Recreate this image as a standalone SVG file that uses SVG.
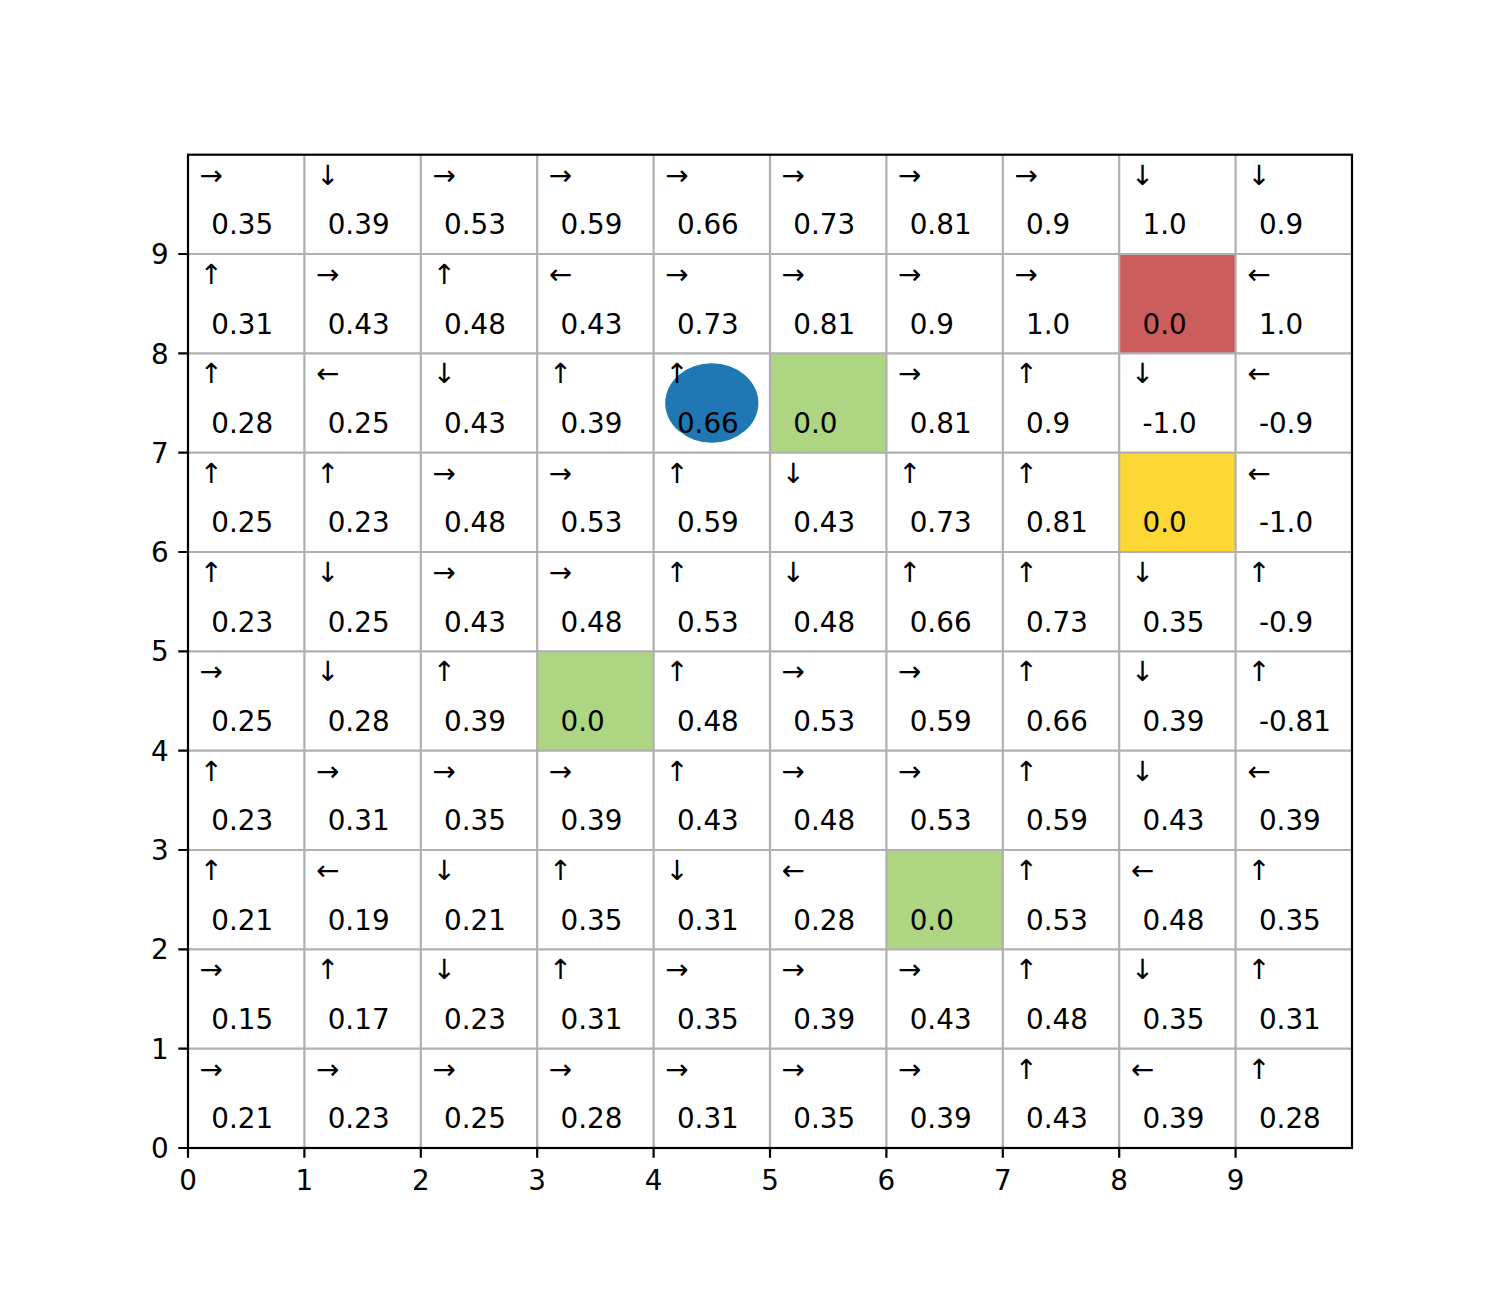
<svg xmlns="http://www.w3.org/2000/svg" width="1502" height="1290" viewBox="0 0 1502 1290">
<style>
text{font-family:"DejaVu Sans",sans-serif;font-size:27.8px;fill:#000}
.tl{text-anchor:end}
.tb{text-anchor:middle}
.g{stroke:#b0b0b0;stroke-width:2.2;fill:none}
.t{stroke:#000;stroke-width:2.2}
</style>
<rect width="1502" height="1290" fill="#fff"/>
<g id="fills">
<rect x="1119.2" y="254" width="116.4" height="99.4" fill="#cd5c5c"/>
<rect x="1119.2" y="452.7" width="116.4" height="99.3" fill="#fdd835"/>
<rect x="770" y="353.4" width="116.4" height="99.3" fill="#aed581"/>
<rect x="537.2" y="651.3" width="116.4" height="99.4" fill="#aed581"/>
<rect x="886.4" y="850" width="116.4" height="99.3" fill="#aed581"/>
</g>
<g id="grid" class="g">
<path d="M304.4 154.7V1148M420.8 154.7V1148M537.2 154.7V1148M653.6 154.7V1148M770 154.7V1148M886.4 154.7V1148M1002.8 154.7V1148M1119.2 154.7V1148M1235.6 154.7V1148"/>
<path d="M188 254H1352M188 353.4H1352M188 452.7H1352M188 552H1352M188 651.3H1352M188 750.7H1352M188 850H1352M188 949.3H1352M188 1048.7H1352"/>
</g>
<ellipse id="agent" cx="711.8" cy="403" rx="46.6" ry="39.7" fill="#1f77b4"/>
<g id="cells">
<g id="r9"><text x="199.6" y="184.5">→</text><text x="211.3" y="234.1">0.35</text><text x="316" y="184.5">↓</text><text x="327.7" y="234.1">0.39</text><text x="432.4" y="184.5">→</text><text x="444.1" y="234.1">0.53</text><text x="548.8" y="184.5">→</text><text x="560.5" y="234.1">0.59</text><text x="665.2" y="184.5">→</text><text x="676.9" y="234.1">0.66</text><text x="781.6" y="184.5">→</text><text x="793.3" y="234.1">0.73</text><text x="898" y="184.5">→</text><text x="909.7" y="234.1">0.81</text><text x="1014.4" y="184.5">→</text><text x="1026.1" y="234.1">0.9</text><text x="1130.8" y="184.5">↓</text><text x="1142.5" y="234.1">1.0</text><text x="1247.2" y="184.5">↓</text><text x="1258.9" y="234.1">0.9</text></g>
<g id="r8"><text x="199.6" y="283.8">↑</text><text x="211.3" y="333.5">0.31</text><text x="316" y="283.8">→</text><text x="327.7" y="333.5">0.43</text><text x="432.4" y="283.8">↑</text><text x="444.1" y="333.5">0.48</text><text x="548.8" y="283.8">←</text><text x="560.5" y="333.5">0.43</text><text x="665.2" y="283.8">→</text><text x="676.9" y="333.5">0.73</text><text x="781.6" y="283.8">→</text><text x="793.3" y="333.5">0.81</text><text x="898" y="283.8">→</text><text x="909.7" y="333.5">0.9</text><text x="1014.4" y="283.8">→</text><text x="1026.1" y="333.5">1.0</text><text x="1142.5" y="333.5">0.0</text><text x="1247.2" y="283.8">←</text><text x="1258.9" y="333.5">1.0</text></g>
<g id="r7"><text x="199.6" y="383.2">↑</text><text x="211.3" y="432.8">0.28</text><text x="316" y="383.2">←</text><text x="327.7" y="432.8">0.25</text><text x="432.4" y="383.2">↓</text><text x="444.1" y="432.8">0.43</text><text x="548.8" y="383.2">↑</text><text x="560.5" y="432.8">0.39</text><text x="665.2" y="383.2">↑</text><text x="676.9" y="432.8">0.66</text><text x="793.3" y="432.8">0.0</text><text x="898" y="383.2">→</text><text x="909.7" y="432.8">0.81</text><text x="1014.4" y="383.2">↑</text><text x="1026.1" y="432.8">0.9</text><text x="1130.8" y="383.2">↓</text><text x="1142.5" y="432.8">-1.0</text><text x="1247.2" y="383.2">←</text><text x="1258.9" y="432.8">-0.9</text></g>
<g id="r6"><text x="199.6" y="482.5">↑</text><text x="211.3" y="532.1">0.25</text><text x="316" y="482.5">↑</text><text x="327.7" y="532.1">0.23</text><text x="432.4" y="482.5">→</text><text x="444.1" y="532.1">0.48</text><text x="548.8" y="482.5">→</text><text x="560.5" y="532.1">0.53</text><text x="665.2" y="482.5">↑</text><text x="676.9" y="532.1">0.59</text><text x="781.6" y="482.5">↓</text><text x="793.3" y="532.1">0.43</text><text x="898" y="482.5">↑</text><text x="909.7" y="532.1">0.73</text><text x="1014.4" y="482.5">↑</text><text x="1026.1" y="532.1">0.81</text><text x="1142.5" y="532.1">0.0</text><text x="1247.2" y="482.5">←</text><text x="1258.9" y="532.1">-1.0</text></g>
<g id="r5"><text x="199.6" y="581.8">↑</text><text x="211.3" y="631.5">0.23</text><text x="316" y="581.8">↓</text><text x="327.7" y="631.5">0.25</text><text x="432.4" y="581.8">→</text><text x="444.1" y="631.5">0.43</text><text x="548.8" y="581.8">→</text><text x="560.5" y="631.5">0.48</text><text x="665.2" y="581.8">↑</text><text x="676.9" y="631.5">0.53</text><text x="781.6" y="581.8">↓</text><text x="793.3" y="631.5">0.48</text><text x="898" y="581.8">↑</text><text x="909.7" y="631.5">0.66</text><text x="1014.4" y="581.8">↑</text><text x="1026.1" y="631.5">0.73</text><text x="1130.8" y="581.8">↓</text><text x="1142.5" y="631.5">0.35</text><text x="1247.2" y="581.8">↑</text><text x="1258.9" y="631.5">-0.9</text></g>
<g id="r4"><text x="199.6" y="681.2">→</text><text x="211.3" y="730.8">0.25</text><text x="316" y="681.2">↓</text><text x="327.7" y="730.8">0.28</text><text x="432.4" y="681.2">↑</text><text x="444.1" y="730.8">0.39</text><text x="560.5" y="730.8">0.0</text><text x="665.2" y="681.2">↑</text><text x="676.9" y="730.8">0.48</text><text x="781.6" y="681.2">→</text><text x="793.3" y="730.8">0.53</text><text x="898" y="681.2">→</text><text x="909.7" y="730.8">0.59</text><text x="1014.4" y="681.2">↑</text><text x="1026.1" y="730.8">0.66</text><text x="1130.8" y="681.2">↓</text><text x="1142.5" y="730.8">0.39</text><text x="1247.2" y="681.2">↑</text><text x="1258.9" y="730.8">-0.81</text></g>
<g id="r3"><text x="199.6" y="780.5">↑</text><text x="211.3" y="830.1">0.23</text><text x="316" y="780.5">→</text><text x="327.7" y="830.1">0.31</text><text x="432.4" y="780.5">→</text><text x="444.1" y="830.1">0.35</text><text x="548.8" y="780.5">→</text><text x="560.5" y="830.1">0.39</text><text x="665.2" y="780.5">↑</text><text x="676.9" y="830.1">0.43</text><text x="781.6" y="780.5">→</text><text x="793.3" y="830.1">0.48</text><text x="898" y="780.5">→</text><text x="909.7" y="830.1">0.53</text><text x="1014.4" y="780.5">↑</text><text x="1026.1" y="830.1">0.59</text><text x="1130.8" y="780.5">↓</text><text x="1142.5" y="830.1">0.43</text><text x="1247.2" y="780.5">←</text><text x="1258.9" y="830.1">0.39</text></g>
<g id="r2"><text x="199.6" y="879.8">↑</text><text x="211.3" y="929.5">0.21</text><text x="316" y="879.8">←</text><text x="327.7" y="929.5">0.19</text><text x="432.4" y="879.8">↓</text><text x="444.1" y="929.5">0.21</text><text x="548.8" y="879.8">↑</text><text x="560.5" y="929.5">0.35</text><text x="665.2" y="879.8">↓</text><text x="676.9" y="929.5">0.31</text><text x="781.6" y="879.8">←</text><text x="793.3" y="929.5">0.28</text><text x="909.7" y="929.5">0.0</text><text x="1014.4" y="879.8">↑</text><text x="1026.1" y="929.5">0.53</text><text x="1130.8" y="879.8">←</text><text x="1142.5" y="929.5">0.48</text><text x="1247.2" y="879.8">↑</text><text x="1258.9" y="929.5">0.35</text></g>
<g id="r1"><text x="199.6" y="979.2">→</text><text x="211.3" y="1028.8">0.15</text><text x="316" y="979.2">↑</text><text x="327.7" y="1028.8">0.17</text><text x="432.4" y="979.2">↓</text><text x="444.1" y="1028.8">0.23</text><text x="548.8" y="979.2">↑</text><text x="560.5" y="1028.8">0.31</text><text x="665.2" y="979.2">→</text><text x="676.9" y="1028.8">0.35</text><text x="781.6" y="979.2">→</text><text x="793.3" y="1028.8">0.39</text><text x="898" y="979.2">→</text><text x="909.7" y="1028.8">0.43</text><text x="1014.4" y="979.2">↑</text><text x="1026.1" y="1028.8">0.48</text><text x="1130.8" y="979.2">↓</text><text x="1142.5" y="1028.8">0.35</text><text x="1247.2" y="979.2">↑</text><text x="1258.9" y="1028.8">0.31</text></g>
<g id="r0"><text x="199.6" y="1078.5">→</text><text x="211.3" y="1128.1">0.21</text><text x="316" y="1078.5">→</text><text x="327.7" y="1128.1">0.23</text><text x="432.4" y="1078.5">→</text><text x="444.1" y="1128.1">0.25</text><text x="548.8" y="1078.5">→</text><text x="560.5" y="1128.1">0.28</text><text x="665.2" y="1078.5">→</text><text x="676.9" y="1128.1">0.31</text><text x="781.6" y="1078.5">→</text><text x="793.3" y="1128.1">0.35</text><text x="898" y="1078.5">→</text><text x="909.7" y="1128.1">0.39</text><text x="1014.4" y="1078.5">↑</text><text x="1026.1" y="1128.1">0.43</text><text x="1130.8" y="1078.5">←</text><text x="1142.5" y="1128.1">0.39</text><text x="1247.2" y="1078.5">↑</text><text x="1258.9" y="1128.1">0.28</text></g>
</g>
<rect id="frame" x="188" y="154.7" width="1164" height="993.3" fill="none" stroke="#000" stroke-width="2.2"/>
<g id="ticks" class="t">
<path d="M178.3 1148H188M178.3 1048.7H188M178.3 949.3H188M178.3 850H188M178.3 750.7H188M178.3 651.3H188M178.3 552H188M178.3 452.7H188M178.3 353.4H188M178.3 254H188"/>
<path d="M188 1148V1157.7M304.4 1148V1157.7M420.8 1148V1157.7M537.2 1148V1157.7M653.6 1148V1157.7M770 1148V1157.7M886.4 1148V1157.7M1002.8 1148V1157.7M1119.2 1148V1157.7M1235.6 1148V1157.7"/>
</g>
<g id="ylabels" class="tl">
<text x="168.6" y="1158.1">0</text><text x="168.6" y="1058.8">1</text><text x="168.6" y="959.4">2</text><text x="168.6" y="860.1">3</text><text x="168.6" y="760.8">4</text><text x="168.6" y="661.4">5</text><text x="168.6" y="562.1">6</text><text x="168.6" y="462.8">7</text><text x="168.6" y="363.5">8</text><text x="168.6" y="264.1">9</text>
</g>
<g id="xlabels" class="tb">
<text x="188" y="1190">0</text><text x="304.4" y="1190">1</text><text x="420.8" y="1190">2</text><text x="537.2" y="1190">3</text><text x="653.6" y="1190">4</text><text x="770" y="1190">5</text><text x="886.4" y="1190">6</text><text x="1002.8" y="1190">7</text><text x="1119.2" y="1190">8</text><text x="1235.6" y="1190">9</text>
</g>
</svg>
